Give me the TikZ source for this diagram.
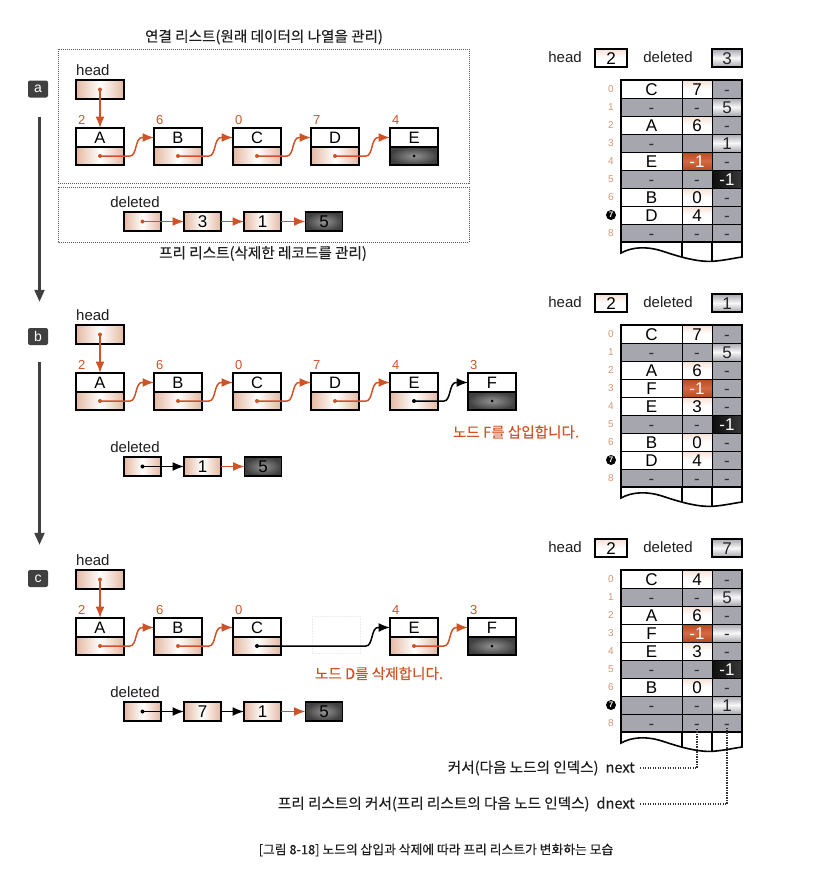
\documentclass[tikz,border=0pt]{standalone}
\usepackage{fontspec}
\setmainfont{Liberation Sans}
\newfontfamily\kr{Noto Sans CJK KR}[FakeBold=0.3]
\usetikzlibrary{arrows.meta}
\definecolor{org}{RGB}{206,84,40}
\definecolor{peach}{RGB}{228,184,162}
\definecolor{peachl}{RGB}{246,224,212}
\definecolor{tgray}{RGB}{166,166,174}
\definecolor{ridxc}{RGB}{214,150,118}
\definecolor{tlc}{RGB}{64,64,64}
\definecolor{txt}{RGB}{30,30,30}
\tikzset{
  lbl/.style={inner sep=0pt, text=txt, font=\fontsize{15}{15}\selectfont},
  klbl/.style={inner sep=0pt, text=txt, font=\kr\fontsize{14.6}{14.6}\selectfont},
  korg/.style={inner sep=0pt, text=org, font=\kr\fontsize{14.6}{14.6}\selectfont},
  topc/.style={draw, line width=1.7pt, fill=white, minimum width=48pt, minimum height=19pt, inner sep=0pt, outer sep=0pt, anchor=north west, text height=11.8pt, text depth=0pt, font=\fontsize{16.5}{16.5}\selectfont},
  botp/.style={draw, line width=1.7pt, left color=peach, right color=peach, middle color=white, minimum width=48pt, minimum height=18pt, inner sep=0pt, outer sep=0pt},
  botd/.style={draw, line width=1.7pt, inner color=gray!85, outer color=black!75, minimum width=48pt, minimum height=18pt, inner sep=0pt, outer sep=0pt},
  delp/.style={draw, line width=1.7pt, left color=peach, right color=peach, middle color=white, minimum width=37pt, minimum height=19pt, inner sep=0pt, outer sep=0pt, text height=12pt, text depth=0pt, font=\fontsize{17}{17}\selectfont},
  deld/.style={draw, line width=1.7pt, inner color=gray!85, outer color=black!75, minimum width=37pt, minimum height=19pt, inner sep=0pt, outer sep=0pt, text height=12pt, text depth=0pt, font=\fontsize{17}{17}\selectfont},
  ghost/.style={draw=gray!14, line width=0.6pt, dash pattern=on 2pt off 1pt, minimum width=48pt, minimum height=37pt, inner sep=0pt, outer sep=0pt, anchor=north west},
  idxl/.style={inner sep=0pt, text=org, anchor=base west, font=\fontsize{13}{13}\selectfont},
  arr/.style={line width=1.5pt, -{Latex[length=11.5pt,width=9pt]}},
  cell/.style={draw, line width=1pt, minimum height=18pt, inner sep=0pt, outer sep=0pt, text height=12pt, text depth=0pt, font=\fontsize{17}{17}\selectfont},
  cw/.style={fill=white},
  cwp/.style={top color=peachl, bottom color=white, middle color=white},
  cg/.style={fill=tgray, text=black!80},
  cl/.style={top color=tgray, bottom color=tgray, middle color=white!92!tgray, text=black!85},
  co/.style={top color=org!88!black, bottom color=org!88!black, middle color=org!88!white, text=white},
  ck/.style={left color=black!95, right color=black!78, text=white},
  ridx/.style={inner sep=0pt, text=ridxc, font=\fontsize{10}{10}\selectfont},
  rcirc/.style={circle, fill=black, inner sep=0pt, minimum size=10pt, text=white, font=\bfseries\fontsize{8}{8}\selectfont},
  hbox/.style={draw, line width=1.7pt, left color=peach, right color=peach, middle color=white, minimum width=48pt, minimum height=19pt, inner sep=0pt, outer sep=0pt},
  hv/.style={draw, line width=1.6pt, minimum width=32pt, minimum height=18pt, inner sep=0pt, outer sep=0pt, text height=12pt, text depth=0pt, font=\fontsize{17}{17}\selectfont},
  tlab/.style={fill=tlc, rounded corners=2pt, minimum width=20pt, minimum height=17pt, inner sep=0pt, text=white, font=\fontsize{14}{14}\selectfont},
  tlarr/.style={draw=tlc, line width=2.2pt, -{Triangle[length=12pt,width=10pt]}},
  dbox/.style={draw=gray!70!black, line width=0.9pt, dash pattern=on 1pt off 1pt},
  dots/.style={draw=black!80, line width=1.4pt, dash pattern=on 1.2pt off 1.3pt},
}
% linked-list node: name, x, y(top), letter, bottom style, index
\newcommand\llnode[6]{%
  \node[topc] (#1t) at (#2,#3) {#4};
  \node[#5, anchor=north west] (#1b) at (#1t.south west) {};
  \node[idxl] (#1i) at ([xshift=2pt,yshift=4pt]#1t.north west) {#6};
}
% arrow from node #1 to node #2 with colour #3
\newcommand\llarrow[3]{%
  \fill[#3] (#1b.center) circle (2pt);
  \draw[#3, arr] (#1b.center) -- ([xshift=-24pt]#2t.west |- #1b.center)
     .. controls +(7pt,0pt) and +(-7pt,0pt) .. ([xshift=-12pt]#2t.west) -- (#2t.west);
}
% table row: prefix, row, style1, text1, style2, text2, style3, text3
\newcommand\trow[8]{%
  \node[cell,#3,minimum width=61pt] (#1r#2c1) at (651.5,{89+\oy+18*#2}) {#4};
  \node[cell,#5,minimum width=30pt] (#1r#2c2) at (697,{89+\oy+18*#2}) {#6};
  \node[cell,#7,minimum width=30pt] (#1r#2c3) at (727,{89+\oy+18*#2}) {#8};
}
% table frame and header: prefix, deleted value
\newcommand\tframe[2]{%
  \draw[line width=1.6pt] (621,{80+\oy}) rectangle (742,{242+\oy});
  \draw[line width=1.6pt] (621,{242+\oy}) -- (621,{253+\oy})
     .. controls (632,{247+\oy}) and (646,{246+\oy}) .. (662,{251+\oy})
     .. controls (680,{257+\oy}) and (700,{263+\oy}) .. (716,{261+\oy})
     .. controls (726,{260+\oy}) and (735,{258+\oy}) .. (742,{257+\oy}) -- (742,{242+\oy});
  \draw[line width=1.2pt] (682,{242+\oy}) -- (682,{257+\oy});
  \draw[line width=1.2pt] (712,{242+\oy}) -- (712,{261.4+\oy});
  \foreach \i in {0,...,6,8} {\node[ridx] (#1i\i) at (611,{89+\oy+18*\i}) {\i};}
  \node[rcirc] (#1i7) at (611,{89+\oy+126}) {7};
  \node[lbl, anchor=base] (#1hl) at (565,{62.5+\oy}) {head};
  \node[hv, cwp] (#1hv) at (611,{58+\oy}) {2};
  \node[lbl, anchor=base] (#1dl) at (668,{62.5+\oy}) {deleted};
  \node[hv, cl, minimum width=30pt] (#1dv) at (727,{58+\oy}) {#2};
}
\begin{document}
\begin{tikzpicture}[x=1pt,y=-1pt]
\useasboundingbox (0,0) rectangle (816,886);
\fill[white] (0,0) rectangle (816,886);

% ---------- timeline ----------
\node[tlab] (la) at (38,89) {a};
\node[tlab] (lb) at (38,336.5) {b};
\node[tlab] (lc) at (38,578.5) {c};
\draw[tlarr] ([xshift=1.5pt,yshift=-19pt]la.south) -- ([xshift=1.5pt,yshift=26pt]lb.north);
\draw[tlarr] ([xshift=1.5pt,yshift=-17pt]lb.south) -- ([xshift=1.5pt,yshift=25pt]lc.north);

% ---------- panel a ----------
\node[klbl] (tit1) at (264,37) {연결 리스트(원래 데이터의 나열을 관리)};
\draw[dbox] (58,49) rectangle (469,183);
\draw[dbox] (58,187) rectangle (469,242);
\node[klbl] (tit2) at (263,253.5) {프리 리스트(삭제한 레코드를 관리)};

\node[hbox] (ahb) at (100,89.5) {};
\node[lbl, anchor=base west] (ahl) at (76,75) {head};
\llnode{aA}{76}{128}{A}{botp}{2}
\llnode{aB}{154}{128}{B}{botp}{6}
\llnode{aC}{233}{128}{C}{botp}{0}
\llnode{aD}{311}{128}{D}{botp}{7}
\llnode{aE}{390}{128}{E}{botd}{4}
\fill[org] (ahb.center) circle (2pt);
\draw[org, arr] (ahb.center) -- (aAt.north);
\llarrow{aA}{aB}{org}
\llarrow{aB}{aC}{org}
\llarrow{aC}{aD}{org}
\llarrow{aD}{aE}{org}
\fill[black] (aEb.center) circle (1.5pt);

\node[lbl, anchor=base] (adl) at (135,207.5) {deleted};
\node[delp] (ad0) at (142.5,221.5) {};
\node[delp] (ad1) at (202.5,221.5) {3};
\node[delp] (ad2) at (262.5,221.5) {1};
\node[deld] (ad3) at (324,221.5) {5};
\fill[org] (ad0.center) circle (2pt);
\draw[org, arr] (ad0.center) -- (ad1.west);
\draw[org, arr] (ad1.east) -- (ad2.west);
\draw[org, arr] (ad2.east) -- (ad3.west);

% ---------- panel b ----------
\node[hbox] (bhb) at (100,334.5) {};
\node[lbl, anchor=base west] (bhl) at (76,320) {head};
\llnode{bA}{76}{373}{A}{botp}{2}
\llnode{bB}{154}{373}{B}{botp}{6}
\llnode{bC}{233}{373}{C}{botp}{0}
\llnode{bD}{311}{373}{D}{botp}{7}
\llnode{bE}{390}{373}{E}{botp}{4}
\llnode{bF}{468}{373}{F}{botd}{3}
\fill[org] (bhb.center) circle (2pt);
\draw[org, arr] (bhb.center) -- (bAt.north);
\llarrow{bA}{bB}{org}
\llarrow{bB}{bC}{org}
\llarrow{bC}{bD}{org}
\llarrow{bD}{bE}{org}
\llarrow{bE}{bF}{black}
\fill[black] (bFb.center) circle (1.5pt);
\node[korg] (bmsg) at (516,432) {노드 F를 삽입합니다.};

\node[lbl, anchor=base] (bdl) at (135,452.5) {deleted};
\node[delp] (bd0) at (142.5,466.5) {};
\node[delp] (bd1) at (202.5,466.5) {1};
\node[deld] (bd2) at (263,466.5) {5};
\fill[black] (bd0.center) circle (2pt);
\draw[black, arr] (bd0.center) -- (bd1.west);
\draw[org, arr] (bd1.east) -- (bd2.west);

% ---------- panel c ----------
\node[hbox] (chb) at (100,579.5) {};
\node[lbl, anchor=base west] (chl) at (76,565) {head};
\llnode{cA}{76}{618}{A}{botp}{2}
\llnode{cB}{154}{618}{B}{botp}{6}
\llnode{cC}{233}{618}{C}{botp}{0}
\node[ghost] (cDg) at (312,616) {};
\llnode{cE}{390}{618}{E}{botp}{4}
\llnode{cF}{468}{618}{F}{botd}{3}
\fill[org] (chb.center) circle (2pt);
\draw[org, arr] (chb.center) -- (cAt.north);
\llarrow{cA}{cB}{org}
\llarrow{cB}{cC}{org}
\llarrow{cC}{cE}{black}
\llarrow{cE}{cF}{org}
\fill[black] (cFb.center) circle (1.5pt);
\node[korg] (cmsg) at (379,673.5) {노드 D를 삭제합니다.};

\node[lbl, anchor=base] (cdl) at (135,697.5) {deleted};
\node[delp] (cd0) at (142.5,711.5) {};
\node[delp] (cd1) at (202.5,711.5) {7};
\node[delp] (cd2) at (262.5,711.5) {1};
\node[deld] (cd3) at (324,711.5) {5};
\fill[black] (cd0.center) circle (2pt);
\draw[black, arr] (cd0.center) -- (cd1.west);
\draw[black, arr] (cd1.east) -- (cd2.west);
\draw[org, arr] (cd2.east) -- (cd3.west);

% ---------- tables ----------
\def\oy{0}
\trow{ta}{0}{cw}{C}{cwp}{7}{cg}{-}
\trow{ta}{1}{cg}{-}{cg}{-}{cl}{5}
\trow{ta}{2}{cw}{A}{cwp}{6}{cg}{-}
\trow{ta}{3}{cg}{-}{cg}{}{cl}{1}
\trow{ta}{4}{cw}{E}{co}{-1}{cg}{-}
\trow{ta}{5}{cg}{-}{cg}{-}{ck}{-1}
\trow{ta}{6}{cw}{B}{cwp}{0}{cg}{-}
\trow{ta}{7}{cw}{D}{cwp}{4}{cg}{-}
\trow{ta}{8}{cg}{-}{cg}{-}{cg}{-}
\tframe{ta}{3}

\def\oy{245}
\trow{tb}{0}{cw}{C}{cwp}{7}{cg}{-}
\trow{tb}{1}{cg}{-}{cg}{-}{cl}{5}
\trow{tb}{2}{cw}{A}{cwp}{6}{cg}{-}
\trow{tb}{3}{cw}{F}{co}{-1}{cg}{-}
\trow{tb}{4}{cw}{E}{cwp}{3}{cg}{-}
\trow{tb}{5}{cg}{-}{cg}{-}{ck}{-1}
\trow{tb}{6}{cw}{B}{cwp}{0}{cg}{-}
\trow{tb}{7}{cw}{D}{cwp}{4}{cg}{-}
\trow{tb}{8}{cg}{-}{cg}{-}{cg}{-}
\tframe{tb}{1}

\def\oy{490}
\trow{tc}{0}{cw}{C}{cwp}{4}{cg}{-}
\trow{tc}{1}{cg}{-}{cg}{-}{cl}{5}
\trow{tc}{2}{cw}{A}{cwp}{6}{cg}{-}
\trow{tc}{3}{cw}{F}{co}{-1}{cl}{-}
\trow{tc}{4}{cw}{E}{cwp}{3}{cg}{-}
\trow{tc}{5}{cg}{-}{cg}{-}{ck}{-1}
\trow{tc}{6}{cw}{B}{cwp}{0}{cg}{-}
\trow{tc}{7}{cg}{-}{cg}{-}{cl}{1}
\trow{tc}{8}{cg}{-}{cg}{-}{cg}{-}
\tframe{tc}{7}

% ---------- annotations ----------
\node[klbl, anchor=east] (nxt) at (635,768) {커서(다음 노드의 인덱스)\hspace{7pt}next};
\node[klbl, anchor=east] (dnx) at (635,804) {프리 리스트의 커서(프리 리스트의 다음 노드 인덱스)\hspace{7pt}dnext};
\draw[dots] ([xshift=5pt]nxt.east) -| ([yshift=-5pt]tcr8c2.center);
\draw[dots] ([xshift=5pt]dnx.east) -| ([yshift=-5pt]tcr8c3.center);

\node[klbl, font=\kr\fontsize{12.8}{12.8}\selectfont] (cap) at (436,850) {[그림 8-18] 노드의 삽입과 삭제에 따라 프리 리스트가 변화하는 모습};
\end{tikzpicture}
\end{document}
